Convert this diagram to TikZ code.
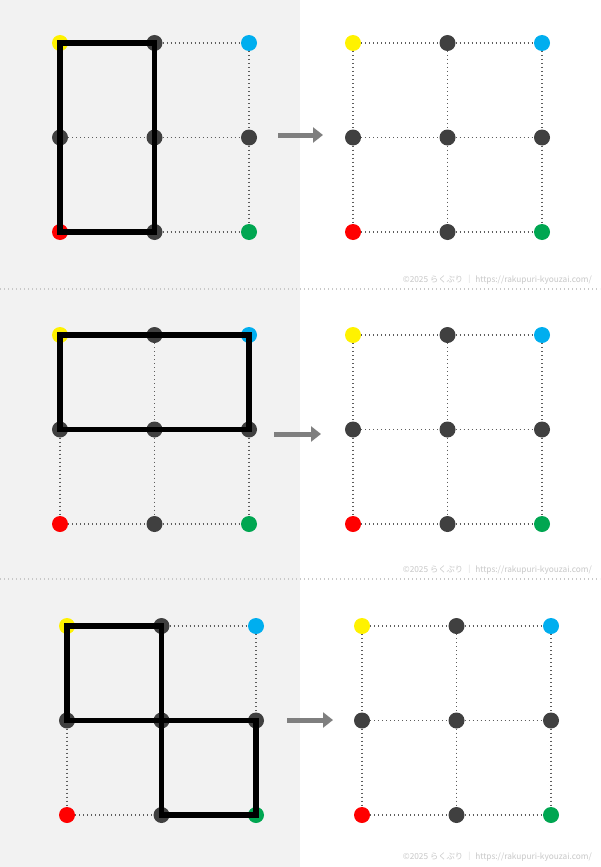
\documentclass[tikz,border=0pt]{standalone}
\usepackage{fontspec}
\usepackage{xcolor}
\usepackage{tikz}
\usetikzlibrary{positioning}
\usetikzlibrary{arrows.meta}
\newfontfamily\jpfont{Noto Sans CJK JP}

\definecolor{panelgray}{HTML}{F2F2F2}
\definecolor{dotgray}{HTML}{404040}
\definecolor{dotyellow}{HTML}{FFF200}
\definecolor{dotcyan}{HTML}{00AEEF}
\definecolor{dotred}{HTML}{FF0000}
\definecolor{dotgreen}{HTML}{00A651}
\definecolor{arrowgray}{HTML}{7F7F7F}
\definecolor{notegray}{HTML}{C8C8C8}

\begin{document}
\begin{tikzpicture}[
    x = 1pt,
    y = -1pt,
    font = \jpfont,
    griddot/.style = {
      circle,
      fill=dotgray,
      minimum size=16pt,
      inner sep=0pt,
      outer sep=0pt
    },
    gridline/.style = {
      draw=dotgray!85,
      line width=1.2pt,
      dash pattern=on 1.2pt off 2.8pt
    },
    shapeline/.style = {
      draw=black,
      line width=5.5pt,
      line join=miter
    },
    flowarrow/.style = {
      draw=arrowgray,
      line width=5pt,
      -{Triangle[length=10pt,width=15pt]}
    },
    splitline/.style = {
      draw=notegray,
      line width=1.2pt,
      dash pattern=on 1.2pt off 2.8pt
    },
    note/.style = {
      text=notegray,
      font=\jpfont\fontsize{8.3}{10}\selectfont,
      anchor=east,
      inner sep=0pt
    }
  ]
    % page and grey left half
    \useasboundingbox (0,0) rectangle (600,867);
    \fill[white] (0,0) rectangle (600,867);
    \fill[panelgray] (0,0) rectangle (300,867);

    % two dot grids per row
    \foreach \p/\lx/\rx/\oy in {1/60/353/43, 2/60/353/335, 3/67/362/626} {
      \foreach \s/\gx in {L/\lx, R/\rx} {
        \foreach \i/\j/\c in {0/0/dotyellow, 1/0/dotgray, 2/0/dotcyan,
                              0/1/dotgray, 1/1/dotgray, 2/1/dotgray,
                              0/2/dotred, 1/2/dotgray, 2/2/dotgreen} {
          \node[griddot, fill=\c] (\s\p-\i-\j) at (\gx+94.5*\i, \oy+94.5*\j) {};
        }
        \foreach \k in {0,1,2} {
          \draw[gridline] (\s\p-0-\k) -- (\s\p-1-\k) -- (\s\p-2-\k);
          \draw[gridline] (\s\p-\k-0) -- (\s\p-\k-1) -- (\s\p-\k-2);
        }
      }
    }

    % thick figures
    \draw[shapeline] (L1-0-0.center) -- (L1-1-0.center) -- (L1-1-2.center) -- (L1-0-2.center) -- cycle;
    \draw[shapeline] (L2-0-0.center) -- (L2-2-0.center) -- (L2-2-1.center) -- (L2-0-1.center) -- cycle;
    \draw[shapeline] (L3-0-0.center) -- (L3-1-0.center) -- (L3-1-1.center) -- (L3-0-1.center) -- cycle;
    \draw[shapeline] (L3-1-1.center) -- (L3-2-1.center) -- (L3-2-2.center) -- (L3-1-2.center) -- cycle;

    % arrows
    \coordinate (arr1s) at (278,135);
    \coordinate (arr1e) at (323,135);
    \coordinate (arr2s) at (274,434);
    \coordinate (arr2e) at (321,434);
    \coordinate (arr3s) at (287,720);
    \coordinate (arr3e) at (333,720);
    \draw[flowarrow] (arr1s) -- (arr1e);
    \draw[flowarrow] (arr2s) -- (arr2e);
    \draw[flowarrow] (arr3s) -- (arr3e);

    % separators
    \coordinate (sep1l) at (0,289);
    \coordinate (sep1r) at (600,289);
    \coordinate (sep2l) at (0,579);
    \coordinate (sep2r) at (600,579);
    \draw[splitline] (sep1l) -- (sep1r);
    \draw[splitline] (sep2l) -- (sep2r);

    % notes
    \node[note] (note1) at (592,280) {©2025 らくぷり ｜ https://rakupuri-kyouzai.com/};
    \node[note] (note2) at (592,570) {©2025 らくぷり ｜ https://rakupuri-kyouzai.com/};
    \node[note] (note3) at (592,857) {©2025 らくぷり ｜ https://rakupuri-kyouzai.com/};
  \end{tikzpicture}
\end{document}
